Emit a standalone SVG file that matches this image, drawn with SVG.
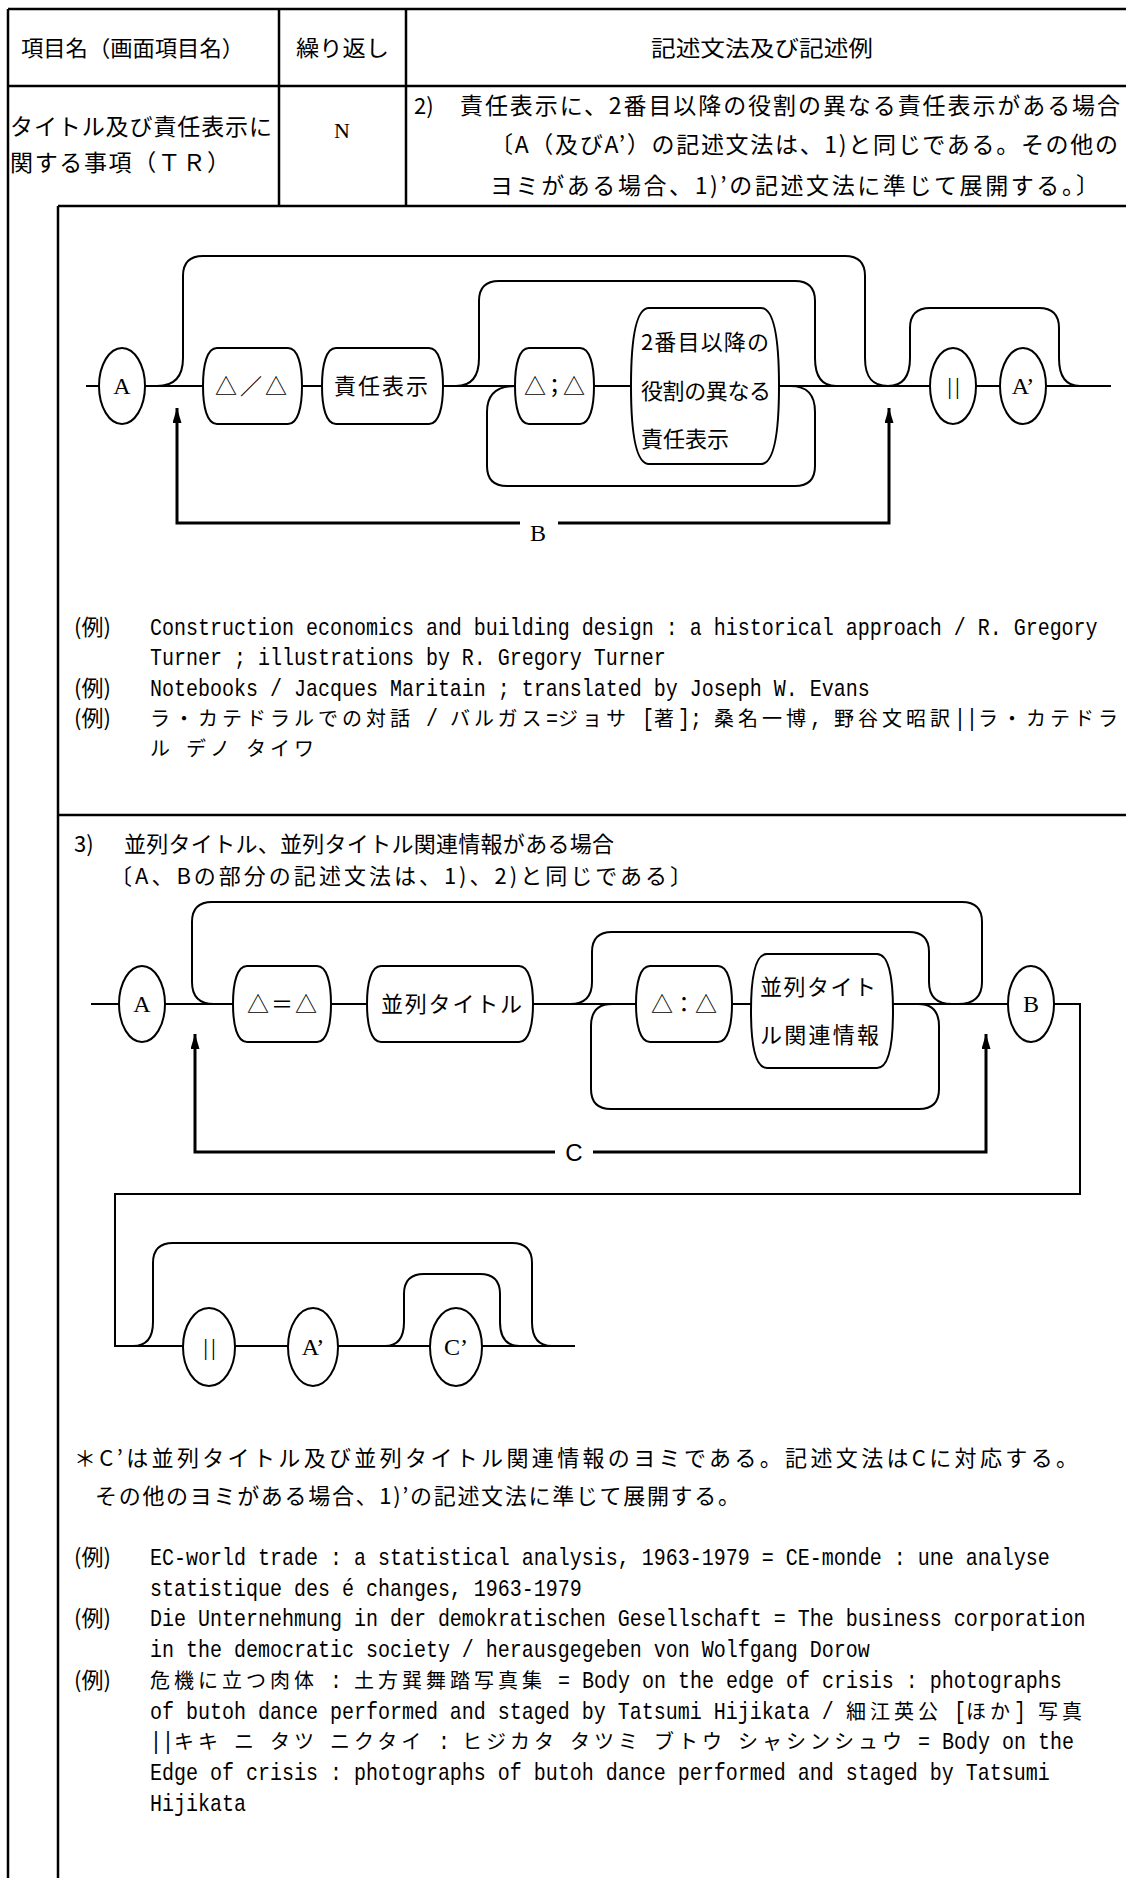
<svg xmlns="http://www.w3.org/2000/svg" width="1126" height="1878" viewBox="0 0 1126 1878">
<style>
.t{stroke:#000;stroke-width:2.5;fill:none}
.d{stroke:#000;stroke-width:2;fill:none}
.fb{stroke:#000;stroke-width:3;fill:none}
.n{fill:#fff;stroke:#000;stroke-width:2}
.jp{font-family:"Noto Sans CJK JP",sans-serif;fill:#000}
.sf{font-family:"Liberation Serif","Noto Sans CJK JP",serif;fill:#000}
.ss{font-family:"Liberation Sans","Noto Sans CJK JP",sans-serif;fill:#000}
.h{font-size:22px}
.b{font-size:22px}
.r{font-size:23px}
.e{font-size:24px}
.bar{letter-spacing:3px}
.ex{font-family:"Liberation Mono","Noto Sans CJK JP",monospace;font-size:20px;fill:#000}
.cj{font-family:"Noto Sans CJK JP",sans-serif;font-size:20px;letter-spacing:4px;fill:#000}
</style>
<defs>
<marker id="ah" markerUnits="userSpaceOnUse" viewBox="0 0 15 9" markerWidth="15" markerHeight="9" refX="15" refY="4.5" orient="auto">
<path d="M0,0 L15,4.5 L0,9 Z" fill="#000"/>
</marker>
</defs>
<rect width="1126" height="1878" fill="#fff"/>

<g id="table" class="t">
<path d="M8,9 H1126 M8,9 V1878 M279,9 V206 M406,9 V206 M8,86 H1126 M58,206 H1126 M58,206 V1878 M58,815 H1126"/>
</g>

<g id="table-text" class="jp">
<text class="h" x="21" y="56" textLength="223" lengthAdjust="spacingAndGlyphs">項目名（画面項目名）</text>
<text class="h" x="296" y="56" textLength="93" lengthAdjust="spacingAndGlyphs">繰り返し</text>
<text class="h" x="651" y="56" textLength="222" lengthAdjust="spacingAndGlyphs">記述文法及び記述例</text>
<text class="r" x="10" y="135" textLength="262">タイトル及び責任表示に</text>
<text class="r" x="10" y="171" textLength="220">関する事項（ＴＲ）</text>
<text class="sf b" x="342" y="138" text-anchor="middle">N</text>
<text class="h" x="414" y="114">2)</text>
<text class="r" x="460" y="114" textLength="660">責任表示に、2番目以降の役割の異なる責任表示がある場合</text>
<text class="r" x="490" y="153" textLength="628">〔A（及びA’）の記述文法は、1)と同じである。その他の</text>
<text class="r" x="490" y="194" textLength="609">ヨミがある場合、1)’の記述文法に準じて展開する。〕</text>
</g>

<!-- Diagram 1 -->
<g id="connectors-1">
<path class="d" d="M86,386 H1111"/>
<path class="d" d="M157,386 C175,386 183,376 183,358 V276 Q183,256 203,256 H845 Q865,256 865,276 V358 C865,377 872,386 888,386 C903,386 910,377 910,358 V328 Q910,308 930,308 H1039 Q1059,308 1059,328 V358 C1059,377 1066,386 1080,386"/>
<path class="d" d="M456,386 C472,386 479,376 479,358 V301 Q479,281 499,281 H795 Q815,281 815,301 V358 C815,377 822,386 836,386"/>
<path class="d" d="M515,386 C497,386 487,394 487,412 V466 Q487,486 507,486 H795 Q815,486 815,466 V412 C815,394 807,386 790,386"/>
<path class="fb" d="M520,523 H177 V408" marker-end="url(#ah)"/>
<path class="fb" d="M558,523 H889 V408" marker-end="url(#ah)"/>
<text class="sf e" x="538" y="541" text-anchor="middle">B</text>
</g>
<g id="d1-A"><ellipse class="n" cx="122" cy="386" rx="23" ry="38"/><text class="sf e" x="122" y="394" text-anchor="middle">A</text></g>
<g id="d1-slash"><path class="n" d="M217,348 H288 C298,348 302,365 302,386 C302,407 298,424 288,424 H217 C207,424 203,407 203,386 C203,365 207,348 217,348 Z"/><text class="jp b" x="215" y="394" textLength="72">△／△</text></g>
<g id="d1-resp"><path class="n" d="M336,348 H429 C439,348 443,365 443,386 C443,407 439,424 429,424 H336 C326,424 322,407 322,386 C322,365 326,348 336,348 Z"/><text class="jp b" x="334" y="394" textLength="94">責任表示</text></g>
<g id="d1-semi"><path class="n" d="M529,348 H580 C590,348 594,365 594,386 C594,407 590,424 580,424 H529 C519,424 515,407 515,386 C515,365 519,348 529,348 Z"/><text class="jp b" x="524" y="394" textLength="61">△；△</text></g>
<g id="d1-resp2"><path class="n" d="M649,308 H761 C775,308 779,342 779,386 C779,430 775,464 761,464 H649 C635,464 631,430 631,386 C631,342 635,308 649,308 Z"/>
<text class="jp b" x="641" y="350" textLength="128">2番目以降の</text>
<text class="jp b" x="641" y="399" textLength="130">役割の異なる</text>
<text class="jp b" x="641" y="447" textLength="88">責任表示</text></g>
<g id="d1-bars"><ellipse class="n" cx="953" cy="386" rx="23" ry="38"/><text class="sf e bar" x="955" y="394" text-anchor="middle">||</text></g>
<g id="d1-Ap"><ellipse class="n" cx="1023" cy="386" rx="23" ry="38"/><text class="sf e" x="1023" y="394" text-anchor="middle">A’</text></g>

<!-- Examples 1 -->
<g id="examples-1">
<text class="jp b" x="74" y="635">(例)</text>
<text class="ex" transform="translate(0,635) scale(1,1.2)" x="150" y="0">Construction economics and building design : a historical approach / R. Gregory</text>
<text class="ex" transform="translate(0,665) scale(1,1.2)" x="150" y="0">Turner ; illustrations by R. Gregory Turner</text>
<text class="jp b" x="74" y="696">(例)</text>
<text class="ex" transform="translate(0,696) scale(1,1.2)" x="150" y="0">Notebooks / Jacques Maritain ; translated by Joseph W. Evans</text>
<text class="jp b" x="74" y="726">(例)</text>
<text class="ex" transform="translate(0,726) scale(1,1.2)" y="0"><tspan x="426">/</tspan><tspan x="546">=</tspan><tspan x="642">[</tspan><tspan x="678">];</tspan><tspan x="810">,</tspan><tspan x="954">||</tspan></text>
<text class="cj" y="726"><tspan x="150">ラ・カテドラルでの対話</tspan><tspan x="450">バルガス</tspan><tspan x="558">ジョサ</tspan><tspan x="654">著</tspan><tspan x="714">桑名一博</tspan><tspan x="834">野谷文昭訳</tspan><tspan x="978">ラ・カテドラ</tspan></text>
<text class="cj" y="756"><tspan x="150">ル</tspan><tspan x="186">デノ</tspan><tspan x="246">タイワ</tspan></text>
</g>

<!-- Section 3 heading -->
<g id="sec3-text" class="jp">
<text class="b" x="74" y="852">3)</text>
<text class="b" x="124" y="852" textLength="490">並列タイトル、並列タイトル関連情報がある場合</text>
<text class="b" x="110" y="884" textLength="582">〔A、Bの部分の記述文法は、1)、2)と同じである〕</text>
</g>

<!-- Diagram 2 -->
<g id="connectors-2">
<path class="d" d="M91,1004 H1080 V1194 H115 V1346 H575"/>
<path class="d" d="M214,1004 C199,1004 192,996 192,982 V922 Q192,902 212,902 H962 Q982,902 982,922 V982 C982,996 975,1004 958,1004"/>
<path class="d" d="M570,1004 C585,1004 592,996 592,982 V952 Q592,932 612,932 H909 Q929,932 929,952 V982 C929,996 936,1004 952,1004"/>
<path class="d" d="M612,1004 C598,1004 591,1012 591,1026 V1089 Q591,1109 611,1109 H919 Q939,1109 939,1089 V1026 C939,1012 932,1004 918,1004"/>
<path class="fb" d="M555,1152 H195 V1034" marker-end="url(#ah)"/>
<path class="fb" d="M593,1152 H986 V1034" marker-end="url(#ah)"/>
<text class="ss e" x="574" y="1161" text-anchor="middle">C</text>
</g>
<g id="d2-A"><ellipse class="n" cx="142" cy="1004" rx="23" ry="38"/><text class="sf e" x="142" y="1012" text-anchor="middle">A</text></g>
<g id="d2-eq"><path class="n" d="M247,966 H317 C327,966 331,983 331,1004 C331,1025 327,1042 317,1042 H247 C237,1042 233,1025 233,1004 C233,983 237,966 247,966 Z"/><text class="jp b" x="247" y="1012" textLength="70">△＝△</text></g>
<g id="d2-pt"><path class="n" d="M381,966 H519 C529,966 533,983 533,1004 C533,1025 529,1042 519,1042 H381 C371,1042 367,1025 367,1004 C367,983 371,966 381,966 Z"/><text class="jp b" x="381" y="1012" textLength="141">並列タイトル</text></g>
<g id="d2-colon"><path class="n" d="M650,966 H718 C728,966 732,983 732,1004 C732,1025 728,1042 718,1042 H650 C640,1042 636,1025 636,1004 C636,983 640,966 650,966 Z"/><text class="jp b" x="651" y="1012" textLength="66">△：△</text></g>
<g id="d2-ptinfo"><path class="n" d="M767,954 H877 C889,954 893,979 893,1011 C893,1043 889,1068 877,1068 H767 C755,1068 751,1043 751,1011 C751,979 755,954 767,954 Z"/>
<text class="jp b" x="760" y="995" textLength="116">並列タイト</text>
<text class="jp b" x="760" y="1043" textLength="119">ル関連情報</text></g>
<g id="d2-B"><ellipse class="n" cx="1031" cy="1004" rx="23" ry="38"/><text class="sf e" x="1031" y="1012" text-anchor="middle">B</text></g>

<!-- Diagram 3 -->
<g id="connectors-3">
<path class="d" d="M133,1346 C147,1346 153,1338 153,1322 V1263 Q153,1243 173,1243 H512 Q532,1243 532,1263 V1322 C532,1338 538,1346 552,1346"/>
<path class="d" d="M385,1346 C398,1346 404,1338 404,1322 V1294 Q404,1274 424,1274 H480 Q500,1274 500,1294 V1322 C500,1338 506,1346 520,1346"/>
</g>
<g id="d3-bars"><ellipse class="n" cx="209" cy="1347" rx="26" ry="39"/><text class="sf e bar" x="211" y="1355" text-anchor="middle">||</text></g>
<g id="d3-Ap"><ellipse class="n" cx="313" cy="1347" rx="25" ry="39"/><text class="sf e" x="313" y="1355" text-anchor="middle">A’</text></g>
<g id="d3-Cp"><ellipse class="n" cx="456" cy="1347" rx="26" ry="39"/><text class="sf e" x="456" y="1355" text-anchor="middle">C’</text></g>

<!-- Notes -->
<g id="notes" class="jp">
<text class="b" x="74" y="1466" textLength="1004">＊C’は並列タイトル及び並列タイトル関連情報のヨミである。記述文法はCに対応する。</text>
<text class="b" x="95" y="1504" textLength="645">その他のヨミがある場合、1)’の記述文法に準じて展開する。</text>
</g>

<!-- Examples 2 -->
<g id="examples-2">
<text class="jp b" x="74" y="1565">(例)</text>
<text class="ex" transform="translate(0,1565) scale(1,1.2)" x="150" y="0">EC-world trade : a statistical analysis, 1963-1979 = CE-monde : une analyse</text>
<text class="ex" transform="translate(0,1596) scale(1,1.2)" x="150" y="0">statistique des é changes, 1963-1979</text>
<text class="jp b" x="74" y="1626">(例)</text>
<text class="ex" transform="translate(0,1626) scale(1,1.2)" x="150" y="0">Die Unternehmung in der demokratischen Gesellschaft = The business corporation</text>
<text class="ex" transform="translate(0,1657) scale(1,1.2)" x="150" y="0">in the democratic society / herausgegeben von Wolfgang Dorow</text>
<text class="jp b" x="74" y="1688">(例)</text>
<text class="ex" transform="translate(0,1688) scale(1,1.2)" y="0"><tspan x="330">:</tspan><tspan x="558">= Body on the edge of crisis : photographs</tspan></text>
<text class="cj" y="1688"><tspan x="150">危機に立つ肉体</tspan><tspan x="354">土方巽舞踏写真集</tspan></text>
<text class="ex" transform="translate(0,1719) scale(1,1.2)" y="0"><tspan x="150">of butoh dance performed and staged by Tatsumi Hijikata /</tspan><tspan x="954">[</tspan><tspan x="1014">]</tspan></text>
<text class="cj" y="1719"><tspan x="846">細江英公</tspan><tspan x="966">ほか</tspan><tspan x="1038">写真</tspan></text>
<text class="ex" transform="translate(0,1749) scale(1,1.2)" y="0"><tspan x="150">||</tspan><tspan x="438">:</tspan><tspan x="918">= Body on the</tspan></text>
<text class="cj" y="1749"><tspan x="174">キキ</tspan><tspan x="234">ニ</tspan><tspan x="270">タツ</tspan><tspan x="330">ニクタイ</tspan><tspan x="462">ヒジカタ</tspan><tspan x="570">タツミ</tspan><tspan x="654">ブトウ</tspan><tspan x="738">シャシンシュウ</tspan></text>
<text class="ex" transform="translate(0,1780) scale(1,1.2)" x="150" y="0">Edge of crisis : photographs of butoh dance performed and staged by Tatsumi</text>
<text class="ex" transform="translate(0,1811) scale(1,1.2)" x="150" y="0">Hijikata</text>
</g>
</svg>
